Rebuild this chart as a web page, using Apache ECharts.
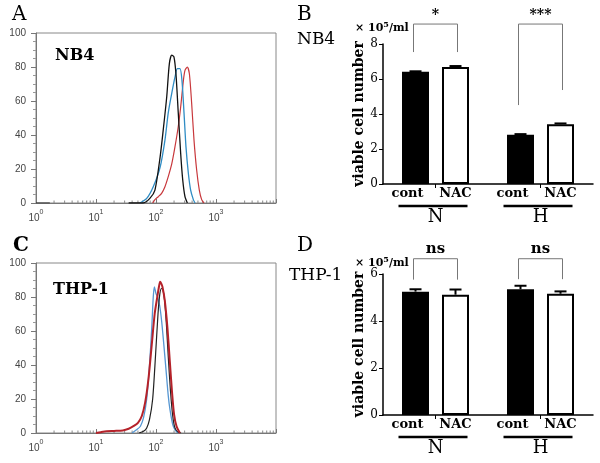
<!DOCTYPE html>
<html><head><meta charset="utf-8">
<script src="https://cdn.jsdelivr.net/npm/echarts@6/dist/echarts.min.js"></script>
<style>html,body{margin:0;padding:0;background:#fff}#c{width:600px;height:463px}</style>
</head><body><div id="c"></div>
<script>
// ================= DATA =================
// flow-cytometry histograms: [fluorescence, % of max]
const histXTickLabels = { 1: '{b|10}{s|0}', 10: '{b|10}{s|1}', 100: '{b|10}{s|2}', 1000: '{b|10}{s|3}' };
const logMinorTicks = [2,3,4,5,6,7,8,9,20,30,40,50,60,70,80,90,200,300,400,500,600,700,800,900,2000,3000,4000,5000,6000,7000,8000,9000];

const nb4Stub = [[1,0],[1.7,0]];
const nb4Black = [[35,0],[61,0],[79,2.7],[96,7.6],[117,27],[132,43],[151,62.5],[167,82],[183,87],[199,86],[215,76],[235,53],[258,29],[279,13.5],[304,3.7],[333,0]];
const nb4Blue = [[54,0],[70,2.7],[90,9.6],[117,21],[141,37],[160,53],[183,64.5],[207,74],[227,79],[251,79],[271,72],[293,53],[316,33],[346,17.5],[378,7.6],[419,2],[447,0]];
const nb4Red = [[88,0],[96,2],[109,3.7],[124,5.7],[141,9.6],[160,15.5],[183,23],[207,33],[235,45],[258,56.6],[286,72],[304,78],[332,80],[360,76],[393,58.6],[430,37],[476,19.4],[527,7.6],[577,2],[631,0]];

const thpBlue = [[40,0],[48,2],[55,4],[62,9],[70,20],[78,40],[85,62],[90,80],[94,86],[100,82],[106,80],[115,75],[124,66],[135,52],[147,37],[160,22],[171,13.7],[190,5],[207,2],[230,0]];
const thpRed = [[10,0],[12,0.5],[15,1],[20,1.2],[28,1.5],[35,2.5],[42,4],[50,6],[58,10],[66,18],[75,32],[85,52],[95,70],[105,80],[112,86],[117,89],[122,88],[128,86],[140,78],[155,62],[170,42],[185,24],[200,11],[220,4],[250,0]];
const thpBlack = [[52,0],[62,1],[70,3],[78,8],[88,20],[98,45],[108,70],[116,82],[124,85],[131,84],[139,78],[149,64],[160,45],[174,25],[190,10],[207,3],[232,0.5],[262,0]];

// viable cell number (x10^5/ml)
const barGroups = ['N', 'H'];
const barSubLabels = ['cont', 'NAC'];
const nb4Cont = [6.42, 2.82];
const nb4ContErr = [0.02, 0.03];
const nb4Nac = [6.68, 3.42];
const nb4NacErr = [0.06, 0.04];
const thpCont = [5.25, 5.35];
const thpContErr = [0.10, 0.15];
const thpNac = [5.12, 5.16];
const thpNacErr = [0.22, 0.10];

// significance brackets: top height, [left leg end, right leg end], label
const nb4Sig = ['*', '***'];
const nb4BracketTop = [9.14, 9.14];
const nb4BracketLegs = [[7.54, 7.54], [4.51, 5.37]];
const thpSig = ['ns', 'ns'];
const thpBracketTop = [6.65, 6.65];
const thpBracketLegs = [[5.76, 5.76], [5.78, 5.78]];

// ================= STYLE =================
const SERIF = '"DejaVu Serif", "Liberation Serif", serif';
const SANS = '"Liberation Sans", Arial, sans-serif';
const BAR_W = 27, GAP_PX = 13;
const OFFSET = (BAR_W + GAP_PX) / 2;
const CAP = 6;

const chart = echarts.init(document.getElementById('c'));

function histX(g) {
  return {
    type: 'log', gridIndex: g, min: 1, max: 10000, logBase: 10,
    axisLine: { show: true, lineStyle: { color: '#777', width: 1 } },
    axisTick: { show: true, length: 4, inside: true, lineStyle: { color: '#777' } },
    splitLine: { show: false },
    axisLabel: {
      margin: 6, color: '#444',
      formatter: v => histXTickLabels[v] || '',
      rich: {
        b: { fontFamily: SANS, fontSize: 10, color: '#444', verticalAlign: 'bottom', lineHeight: 14 },
        s: { fontFamily: SANS, fontSize: 7, color: '#444', verticalAlign: 'top', lineHeight: 14 }
      }
    }
  };
}
function histY(g) {
  return {
    type: 'value', gridIndex: g, min: 0, max: 100, interval: 20,
    axisLine: { show: true, lineStyle: { color: '#777' } },
    axisTick: { show: true, length: 5, lineStyle: { color: '#777' } },
    minorTick: { show: true, splitNumber: 4, length: 3, lineStyle: { color: '#999' } },
    splitLine: { show: false },
    axisLabel: { fontFamily: SANS, fontSize: 10, color: '#444', margin: 10 }
  };
}
function barX(g) {
  return {
    type: 'category', gridIndex: g, data: barGroups,
    axisLine: { lineStyle: { color: '#000', width: 1.5 } },
    axisTick: { show: true, alignWithLabel: true, length: 4, lineStyle: { color: '#000', width: 1 } },
    axisLabel: { margin: 24, fontFamily: SERIF, fontSize: 18, color: '#000' }
  };
}
function barY(g, max) {
  return {
    type: 'value', gridIndex: g, min: 0, max: max, interval: 2,
    name: 'viable cell number', nameLocation: 'middle', nameGap: 17, nameRotate: 90,
    nameTextStyle: { fontFamily: SERIF, fontSize: 14, fontWeight: 'bold', color: '#000' },
    axisLine: { show: true, lineStyle: { color: '#000', width: 1.5 } },
    axisTick: { show: true, length: 4, lineStyle: { color: '#000', width: 1 } },
    splitLine: { show: false },
    axisLabel: { fontFamily: SERIF, fontSize: 12, color: '#000', margin: 5 }
  };
}
function line(name, xi, data, color, w) {
  return { name, type: 'line', xAxisIndex: xi, yAxisIndex: xi, data, showSymbol: false, smooth: 0.25,
    lineStyle: { color, width: w }, itemStyle: { color }, z: 4 };
}
function minorTicks(xi) {
  return { type: 'custom', xAxisIndex: xi, yAxisIndex: xi, silent: true, z: 3,
    data: logMinorTicks.map(v => [v, 0]),
    renderItem: (p, api) => {
      const pt = api.coord([api.value(0), 0]);
      return { type: 'line', shape: { x1: pt[0], y1: pt[1], x2: pt[0], y2: pt[1] - 2.5 }, style: { stroke: '#888', lineWidth: 1 } };
    } };
}
function bars(xi, cont, nac) {
  return [
    { name: 'cont', type: 'bar', xAxisIndex: xi, yAxisIndex: xi, data: cont, barWidth: BAR_W,
      barGap: (GAP_PX / BAR_W * 100) + '%', itemStyle: { color: '#000' }, z: 2 },
    { name: 'NAC', type: 'bar', xAxisIndex: xi, yAxisIndex: xi, data: nac, barWidth: BAR_W,
      itemStyle: { color: '#fff', borderColor: '#000', borderWidth: 2 }, z: 2 }
  ];
}
function errBars(xi, means, errs, off) {
  return { type: 'custom', xAxisIndex: xi, yAxisIndex: xi, silent: true, z: 5,
    data: means.map((m, i) => [i, m, m + errs[i]]),
    renderItem: (p, api) => {
      const b = api.coord([api.value(0), api.value(1)]);
      const t = api.coord([api.value(0), api.value(2)]);
      const x = b[0] + off;
      return { type: 'group', children: [
        { type: 'line', shape: { x1: x, y1: b[1], x2: x, y2: t[1] }, style: { stroke: '#000', lineWidth: 2 } },
        { type: 'line', shape: { x1: x - CAP, y1: t[1], x2: x + CAP, y2: t[1] }, style: { stroke: '#000', lineWidth: 2 } }
      ] };
    } };
}
function brackets(xi, tops, legs, sig, sigSize) {
  return { type: 'custom', xAxisIndex: xi, yAxisIndex: xi, silent: true, z: 5,
    data: tops.map((t, i) => [i, t, legs[i][0], legs[i][1]]),
    renderItem: (p, api) => {
      const i = api.value(0);
      const c = api.coord([i, api.value(1)]);
      const l = api.coord([i, api.value(2)]);
      const r = api.coord([i, api.value(3)]);
      const xl = c[0] - 22, xr = c[0] + 22;
      return { type: 'group', children: [
        { type: 'polyline', shape: { points: [[xl, l[1]], [xl, c[1]], [xr, c[1]], [xr, r[1]]] },
          style: { stroke: '#777', lineWidth: 1, fill: null } },
        { type: 'text', x: c[0], y: c[1] - 2,
          style: { text: sig[p.dataIndex], fontFamily: SERIF, fontSize: sigSize, fontWeight: 'bold', fill: '#000',
            align: 'center', verticalAlign: 'bottom', textAlign: 'center', textVerticalAlign: 'bottom' } }
      ] };
    } };
}
function subLabels(xi) {
  return { type: 'custom', xAxisIndex: xi, yAxisIndex: xi, silent: true, z: 5,
    data: barGroups.map((g, i) => [i, 0]),
    renderItem: (p, api) => {
      const b = api.coord([api.value(0), 0]);
      const mk = (txt, dx) => ({ type: 'text', x: b[0] + dx, y: b[1] + 10,
        style: { text: txt, fontFamily: SERIF, fontSize: 13, fontWeight: 'bold', fill: '#000',
          align: 'center', verticalAlign: 'middle', textAlign: 'center', textVerticalAlign: 'middle' } });
      return { type: 'group', children: [
        mk(barSubLabels[0], -28),
        mk(barSubLabels[1], 20),
        { type: 'line', shape: { x1: b[0] - 37, y1: b[1] + 22, x2: b[0] + 32, y2: b[1] + 22 },
          style: { stroke: '#000', lineWidth: 2.5 } }
      ] };
    } };
}
function txt(x, y, text, size, weight, rich) {
  return { type: 'text', x, y, style: { text, fontFamily: SERIF, fontSize: size, fontWeight: weight, fill: '#000',
    textVerticalAlign: 'middle', verticalAlign: 'middle', rich } };
}
const supRich = {
  s: { fontFamily: SERIF, fontSize: 8, fontWeight: 'bold', verticalAlign: 'top', lineHeight: 13 },
  n: { fontFamily: SERIF, fontSize: 11, fontWeight: 'bold', verticalAlign: 'bottom', lineHeight: 13 }
};

chart.setOption({
  animation: false,
  backgroundColor: '#fff',
  grid: [
    { left: 36, top: 33, width: 240, height: 170, show: true, borderColor: '#888', borderWidth: 1, backgroundColor: 'transparent' },
    { left: 36, top: 263, width: 240, height: 170, show: true, borderColor: '#888', borderWidth: 1, backgroundColor: 'transparent' },
    { left: 383, top: 44, width: 210, height: 140 },
    { left: 383, top: 274, width: 210, height: 141 }
  ],
  xAxis: [histX(0), histX(1), barX(2), barX(3)],
  yAxis: [histY(0), histY(1), barY(2, 8), barY(3, 6)],
  series: [
    line('NB4 stub', 0, nb4Stub, '#222', 1.2),
    line('NB4 red', 0, nb4Red, '#c8383c', 1.2),
    line('NB4 blue', 0, nb4Blue, '#2f8cc4', 1.3),
    line('NB4 black', 0, nb4Black, '#111', 1.3),
    minorTicks(0),
    line('THP-1 blue', 1, thpBlue, '#5596d2', 1.3),
    line('THP-1 black', 1, thpBlack, '#222', 1.2),
    line('THP-1 red', 1, thpRed, '#b5222a', 2),
    minorTicks(1),
    ...bars(2, nb4Cont, nb4Nac),
    errBars(2, nb4Cont, nb4ContErr, -OFFSET),
    errBars(2, nb4Nac, nb4NacErr, OFFSET),
    brackets(2, nb4BracketTop, nb4BracketLegs, nb4Sig, 14),
    subLabels(2),
    ...bars(3, thpCont, thpNac),
    errBars(3, thpCont, thpContErr, -OFFSET),
    errBars(3, thpNac, thpNacErr, OFFSET),
    brackets(3, thpBracketTop, thpBracketLegs, thpSig, 15),
    subLabels(3)
  ],
  graphic: [
    txt(12, 15, 'A', 20, 'normal'),
    txt(297, 15, 'B', 20, 'normal'),
    txt(13, 246, 'C', 20, 'bold'),
    txt(297, 246, 'D', 20, 'normal'),
    txt(55, 56, 'NB4', 16, 'bold'),
    txt(297, 40, 'NB4', 17, 'normal'),
    txt(53, 290, 'THP-1', 16, 'bold'),
    txt(289, 276, 'THP-1', 17, 'normal'),
    txt(355, 27, '{n|× 10}{s|5}{n|/ml}', 11, 'bold', supRich),
    txt(355, 262, '{n|× 10}{s|5}{n|/ml}', 11, 'bold', supRich)
  ]
});
</script></body></html>
